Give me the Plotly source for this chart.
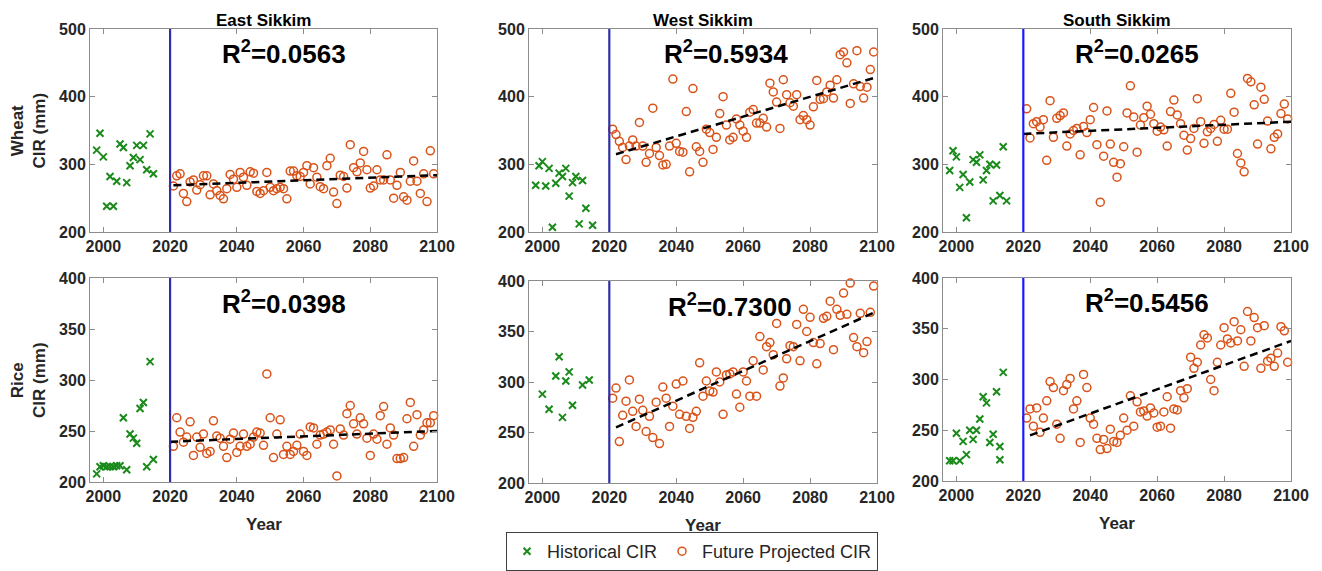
import plotly.graph_objects as go

FONT = "Liberation Sans, Arial, Helvetica, sans-serif"

# ---------------- DATA ----------------
regions = ["East Sikkim", "West Sikkim", "South Sikkim"]
crop_labels = ["Wheat<br>CIR (mm)", "Rice<br>CIR (mm)"]
x_ticks = [2000, 2020, 2040, 2060, 2080, 2100]
wheat_ticks = [200, 300, 400, 500]
rice_ticks = [200, 250, 300, 350, 400]
divider_year = 2020
future_years = list(range(2021, 2100))

# East Sikkim - Wheat
ew_hist_years = [1998, 1999, 2000, 2001, 2002, 2003, 2004, 2005, 2006, 2007, 2008, 2009, 2010, 2011, 2012, 2013, 2014, 2015]
ew_hist = [321, 346, 311, 238, 282, 238, 275, 330, 325, 273, 298, 310, 328, 307, 328, 292, 345, 286]
ew_future = [268, 283, 286, 257, 245, 274, 277, 262, 270, 283, 283, 255, 271, 261, 254, 249, 264, 285, 278, 266,
             288, 281, 269, 289, 287, 260, 257, 261, 288, 266, 261, 264, 266, 264, 249, 290, 290, 283, 282, 288,
             298, 271, 295, 281, 267, 264, 298, 309, 259, 242, 284, 282, 265, 329, 295, 289, 302, 319, 292, 265,
             268, 292, 277, 277, 314, 277, 250, 269, 288, 252, 247, 275, 305, 275, 257, 286, 245, 320, 286]
ew_trend_years = [2021, 2100]
ew_trend = [269, 284]

# West Sikkim - Wheat
ww_hist_years = [1998, 1999, 2000, 2001, 2002, 2003, 2004, 2005, 2006, 2007, 2008, 2009, 2010, 2011, 2012, 2013, 2015]
ww_hist = [269, 298, 304, 268, 294, 207, 272, 287, 282, 294, 253, 273, 282, 212, 276, 235, 210]
ww_future = [352, 344, 334, 325, 307, 327, 336, 327, 362, 327, 303, 316, 383, 325, 313, 299, 300, 327, 426, 331,
             319, 318, 378, 289, 412, 326, 319, 303, 352, 347, 322, 340, 375, 400, 358, 336, 340, 367, 358, 349,
             340, 377, 381, 361, 361, 368, 355, 420, 407, 392, 353, 425, 403, 391, 386, 403, 366, 372, 366, 358,
             385, 424, 396, 397, 407, 417, 398, 425, 462, 466, 450, 390, 419, 468, 415, 398, 414, 440, 466]
ww_trend_years = [2022, 2100]
ww_trend = [315, 429]

# South Sikkim - Wheat
sw_hist_years = [1998, 1999, 2000, 2001, 2002, 2003, 2004, 2005, 2006, 2007, 2008, 2009, 2010, 2011, 2012, 2013, 2014, 2015]
sw_hist = [291, 320, 311, 266, 285, 221, 274, 307, 303, 314, 277, 291, 300, 246, 299, 254, 326, 246]
sw_future = [382, 339, 360, 363, 355, 366, 306, 394, 340, 368, 372, 376, 327, 345, 350, 353, 314, 356, 347, 366,
             384, 329, 244, 312, 379, 330, 303, 281, 301, 326, 376, 416, 370, 318, 358, 369, 386, 374, 360, 349,
             355, 351, 327, 378, 395, 373, 360, 343, 321, 338, 353, 397, 363, 331, 348, 353, 359, 334, 365, 352,
             352, 405, 377, 316, 302, 289, 427, 422, 388, 330, 414, 396, 364, 323, 340, 345, 375, 389, 367]
sw_trend_years = [2020, 2100]
sw_trend = [345, 363]

# East Sikkim - Rice
er_hist_years = [1998, 1999, 2000, 2001, 2002, 2003, 2004, 2005, 2006, 2007, 2008, 2009, 2010, 2011, 2012, 2013, 2014, 2015]
er_hist = [208, 215, 216, 215, 215, 215, 216, 216, 263, 212, 247, 243, 238, 272, 278, 215, 318, 222]
er_future = [235, 263, 249, 239, 244, 259, 226, 244, 234, 247, 228, 230, 260, 245, 243, 235, 224, 242, 248, 229,
             235, 247, 235, 237, 244, 249, 248, 236, 306, 263, 224, 247, 261, 227, 235, 227, 230, 236, 247, 230,
             226, 254, 253, 237, 246, 247, 249, 251, 237, 206, 252, 246, 267, 275, 257, 247, 263, 257, 243, 226,
             247, 242, 265, 274, 237, 253, 246, 223, 223, 224, 262, 278, 235, 266, 246, 251, 258, 258, 265]
er_trend_years = [2020, 2100]
er_trend = [239.5, 250]

# West Sikkim - Rice
wr_hist_years = [2000, 2002, 2004, 2005, 2006, 2007, 2008, 2009, 2012, 2014]
wr_hist = [288, 273, 306, 325, 265, 301, 310, 277, 297, 302]
wr_future = [284, 294, 241, 267, 281, 302, 271, 256, 283, 272, 251, 266, 245, 280, 239, 295, 284, 256, 276, 298,
             268, 301, 266, 254, 265, 271, 319, 286, 301, 291, 290, 310, 300, 268, 307, 308, 310, 288, 275, 310,
             301, 286, 321, 286, 345, 312, 335, 339, 327, 358, 296, 304, 323, 336, 335, 357, 321, 372, 350, 364,
             339, 318, 338, 363, 365, 380, 332, 372, 366, 388, 367, 398, 344, 335, 368, 329, 340, 369, 395]
wr_trend_years = [2022, 2100]
wr_trend = [255, 370]

# South Sikkim - Rice
sr_hist_years = [1998, 1999, 2000, 2001, 2002, 2003, 2004, 2005, 2006, 2007, 2008, 2009, 2010, 2011, 2012, 2013, 2013, 2014]
sr_hist = [220, 220, 247, 220, 239, 226, 250, 241, 250, 261, 283, 277, 238, 246, 288, 221, 234, 307]
sr_future = [262, 271, 254, 272, 248, 262, 279, 298, 292, 256, 242, 289, 295, 301, 271, 279, 238, 305, 292, 262,
             256, 242, 231, 241, 232, 251, 239, 238, 245, 262, 250, 284, 254, 278, 268, 269, 264, 272, 267, 253,
             254, 268, 283, 252, 271, 270, 289, 282, 291, 322, 311, 317, 334, 344, 341, 300, 289, 317, 334, 351,
             340, 336, 357, 338, 349, 313, 367, 338, 361, 351, 311, 353, 318, 321, 313, 326, 352, 348, 317]
sr_trend_years = [2022, 2100]
sr_trend = [245, 338]

r2_labels = ["0.0563", "0.5934", "0.0265", "0.0398", "0.7300", "0.5456"]

panels = [
    (ew_hist_years, ew_hist, ew_future, ew_trend_years, ew_trend),
    (ww_hist_years, ww_hist, ww_future, ww_trend_years, ww_trend),
    (sw_hist_years, sw_hist, sw_future, sw_trend_years, sw_trend),
    (er_hist_years, er_hist, er_future, er_trend_years, er_trend),
    (wr_hist_years, wr_hist, wr_future, wr_trend_years, wr_trend),
    (sr_hist_years, sr_hist, sr_future, sr_trend_years, sr_trend),
]

# ---------------- LAYOUT / STYLE ----------------
W, H = 1322, 571
col_px = [(90, 437), (529, 877), (943, 1291)]
row_px = [[(29, 232), (29, 232), (29, 232)],
          [(278, 482), (281, 483), (278, 481)]]
r2_pos = [(2054, 466), (2055, 466), (2054, 466),
          (2054, 376), (2056, 376), (2057, 377)]
divider_colors = ["#2e2ea6", "#2e2ea6", "#1a1aff", "#2e2ea6", "#2e2ea6", "#1a1aff"]

GREEN = "#1a8a1a"
ORANGE = "#d95319"
AXCOL = "#8c8c8c"
TXT = "#262626"

fig = go.Figure()
layout = dict(
    width=W, height=H,
    margin=dict(l=0, r=0, t=0, b=0, pad=0, autoexpand=False),
    paper_bgcolor="white", plot_bgcolor="white",
    font=dict(family=FONT, color=TXT),
    showlegend=True,
    legend=dict(orientation="h", x=506 / W, xanchor="left", y=1 - 532 / H, yanchor="top",
                bordercolor="#404040", borderwidth=1, bgcolor="white",
                font=dict(family=FONT, size=18, color=TXT)),
)
annotations = []
shapes = []

for i, (hy, hv, fv, ty, tv) in enumerate(panels):
    r, c = divmod(i, 3)
    xn = "x" if i == 0 else f"x{i + 1}"
    yn = "y" if i == 0 else f"y{i + 1}"
    xk = "xaxis" if i == 0 else f"xaxis{i + 1}"
    yk = "yaxis" if i == 0 else f"yaxis{i + 1}"
    x0, x1 = col_px[c]
    yt, yb = row_px[r][c]
    yticks = wheat_ticks if r == 0 else rice_ticks
    common = dict(showline=True, linecolor=AXCOL, linewidth=1, mirror="ticks",
                  ticks="inside", ticklen=5, tickwidth=1, tickcolor=AXCOL,
                  showgrid=False, zeroline=False, automargin=False,
                  tickfont=dict(family=FONT, size=16, color=TXT, weight="bold"))
    layout[xk] = dict(domain=[x0 / W, x1 / W], range=[1996, 2100], tickvals=x_ticks,
                      anchor=yn, **common)
    layout[yk] = dict(domain=[1 - yb / H, 1 - yt / H], range=[yticks[0], yticks[-1]],
                      tickvals=yticks, anchor=xn, **common)

    fig.add_trace(go.Scatter(x=hy, y=hv, mode="markers", xaxis=xn, yaxis=yn,
                             name="Historical CIR", showlegend=(i == 0), cliponaxis=False,
                             marker=dict(symbol="x-thin-open", size=7, color=GREEN,
                                         line=dict(color=GREEN, width=2))))
    fig.add_trace(go.Scatter(x=future_years[:len(fv)], y=fv, mode="markers", xaxis=xn, yaxis=yn,
                             name="Future Projected CIR", showlegend=(i == 0), cliponaxis=False,
                             marker=dict(symbol="circle-open", size=8, color=ORANGE,
                                         line=dict(color=ORANGE, width=1.5))))
    fig.add_trace(go.Scatter(x=ty, y=tv, mode="lines", xaxis=xn, yaxis=yn, showlegend=False,
                             line=dict(color="black", width=2.5, dash="8px,5px"), hoverinfo="skip"))
    shapes.append(dict(type="line", xref=xn, yref=f"{yn} domain", x0=divider_year, x1=divider_year,
                       y0=0, y1=1, line=dict(color=divider_colors[i], width=2.2)))
    ax, ay = r2_pos[i]
    annotations.append(dict(xref=xn, yref=yn, x=ax, y=ay, showarrow=False,
                            text=f"R<sup>2</sup>={r2_labels[i]}", xanchor="center", yanchor="middle",
                            font=dict(family=FONT, size=26, color="black", weight="bold")))
    if r == 0:
        annotations.append(dict(xref="paper", yref="paper", x=(x0 + x1) / 2 / W, y=1 - 20 / H,
                                text=regions[c], showarrow=False, xanchor="center", yanchor="middle",
                                font=dict(family=FONT, size=17, color="black", weight="bold")))
    else:
        annotations.append(dict(xref="paper", yref="paper", x=(x0 + x1) / 2 / W, y=1 - (yb + 42) / H,
                                text="Year", showarrow=False, xanchor="center", yanchor="middle",
                                font=dict(family=FONT, size=17, color=TXT, weight="bold")))
    if c == 0:
        annotations.append(dict(xref="paper", yref="paper", x=28 / W, y=1 - (yt + yb) / 2 / H,
                                text=crop_labels[r], showarrow=False, textangle=-90,
                                xanchor="center", yanchor="middle",
                                font=dict(family=FONT, size=17, color=TXT, weight="bold")))

layout["annotations"] = annotations
layout["shapes"] = shapes
fig.update_layout(**layout)
fig.write_html("out.html", config={"displayModeBar": False},
               post_script="document.body.style.margin='0px';document.body.style.overflow='hidden';")
